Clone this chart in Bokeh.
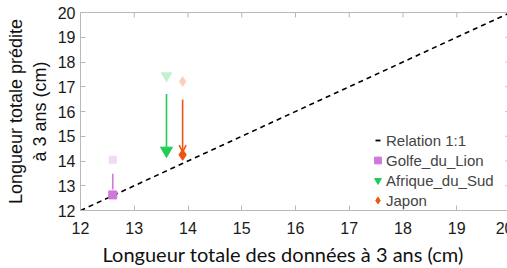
from bokeh.plotting import figure
from bokeh.models import Legend, LegendItem, Arrow, OpenHead, FixedTicker, Title
from bokeh.embed import file_html
from bokeh.resources import INLINE

regions = ["Golfe_du_Lion", "Afrique_du_Sud", "Japon"]
colors = ["#cf78da", "#22cc55", "#ee5511"]
markers = ["square", "inverted_triangle", "diamond"]
marker_sizes = [8, 12, 11]
x_obs = [12.6, 13.6, 13.9]
y_before = [14.05, 17.45, 17.21]
y_after = [12.63, 14.42, 14.25]
arrow_start = [13.48, 16.71, 16.48]
arrow_end = [12.85, 14.56, 14.36]
ref_line = [12, 20]
ticks = [12, 13, 14, 15, 16, 17, 18, 19, 20]

p = figure(width=513, height=268, x_range=(12, 20), y_range=(12, 20),
           output_backend="svg", toolbar_location=None,
           min_border_left=80, min_border_right=3, min_border_top=12, min_border_bottom=58)
p.grid.visible = False
p.outline_line_color = "#b8b8b8"
p.outline_line_width = 1

for ax in [p.xaxis[0], p.yaxis[0]]:
    ax.ticker = FixedTicker(ticks=ticks)
    ax.axis_line_color = "#b8b8b8"
    ax.major_tick_line_color = "#b8b8b8"
    ax.major_tick_in = 5
    ax.major_tick_out = 0
    ax.minor_tick_line_color = None
    ax.major_label_text_font = "Liberation Sans"
    ax.major_label_text_font_size = "16px"
    ax.major_label_text_color = "#1a1a1a"
    ax.axis_label_text_font_style = "normal"
    ax.axis_label_text_color = "#111111"

p.xaxis.major_label_standoff = 11
p.yaxis.major_label_standoff = 5
p.yaxis.axis_label = "Longueur totale prédite\nà 3 ans (cm)"
p.yaxis.axis_label_text_font = "Liberation Sans"
p.yaxis.axis_label_text_font_size = "18px"
p.yaxis.axis_label_standoff = 5

xlabel = Title(text="Longueur totale des données à 3 ans (cm)", align="left", offset=22,
               text_font="Lato", text_font_size="20px", text_font_style="normal",
               text_color="#111111", standoff=6)
p.add_layout(xlabel, "below")

# inward ticks on the top and right edges of the box
n = len(ticks)
p.segment(x0=ticks, y0=[20] * n, x1=ticks, y1=[19.8] * n, line_color="#b8b8b8", line_width=1)
p.segment(x0=[20] * n, y0=ticks, x1=[19.905] * n, y1=ticks, line_color="#b8b8b8", line_width=1)

p.line(ref_line, ref_line, line_color="black", line_dash="5 4", line_width=1.6)
r_leg = p.line(x=[ref_line[0]] * 2, y=[ref_line[0]] * 2, line_color="black",
               line_dash="5 30", line_dash_offset=-6, line_width=1.8)
items = [LegendItem(label="Relation 1:1", renderers=[r_leg])]

for i in range(3):
    c = colors[i]
    sz = marker_sizes[i]
    p.scatter([x_obs[i]], [y_before[i]], marker=markers[i], size=sz,
              fill_color=c, line_color=c, fill_alpha=0.28, line_alpha=0.0)
    p.add_layout(Arrow(x_start=x_obs[i], y_start=arrow_start[i], x_end=x_obs[i], y_end=arrow_end[i],
                       line_color=c, line_width=1.6,
                       end=OpenHead(size=7, line_color=c, line_width=1.6) if i == 2 else None))
    rr = p.scatter([x_obs[i]], [y_after[i]], marker=markers[i], size=sz,
                   fill_color=c, line_color=c)
    items.append(LegendItem(label=regions[i], renderers=[rr]))

leg = Legend(items=items, location=(289, 0), border_line_color=None,
             background_fill_alpha=0.0, label_text_font="Liberation Sans",
             label_text_font_size="15px", glyph_width=17, glyph_height=20,
             label_standoff=0, spacing=0, padding=0, margin=0, label_height=20)
p.add_layout(leg)

open("out.html", "w").write(file_html(p, INLINE))
